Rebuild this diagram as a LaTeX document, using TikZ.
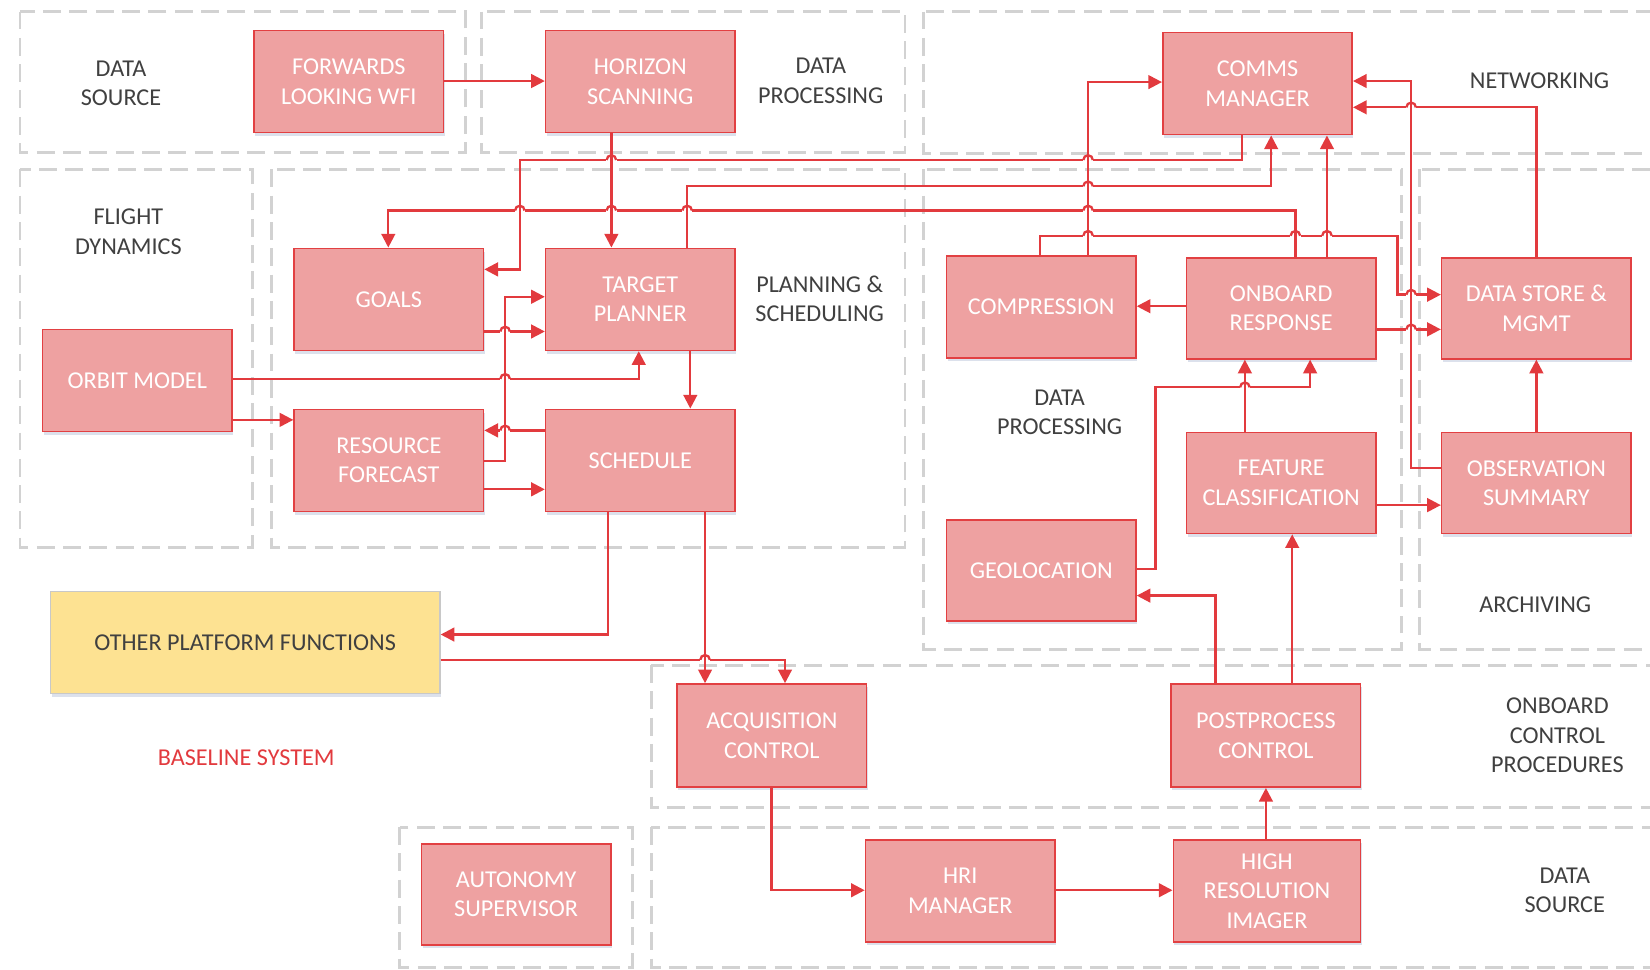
\documentclass[tikz,border=0pt]{standalone}
\usepackage{fontspec}
\setmainfont{Carlito}
\usetikzlibrary{arrows.meta,shadows}

\definecolor{boxfill}{RGB}{238,161,161}
\definecolor{boxline}{RGB}{226,64,66}
\definecolor{wirecol}{RGB}{226,58,62}
\definecolor{groupline}{RGB}{210,210,210}
\definecolor{labeltext}{RGB}{64,64,64}
\definecolor{platfill}{RGB}{253,226,146}
\definecolor{platline}{RGB}{200,200,200}
\definecolor{shadowcol}{RGB}{205,212,228}

% a small jump where a horizontal wire passes over a vertical one
\newcommand\wirehop[2]{%
  \fill[white] (#1-5,#2-1.7) rectangle (#1+5,#2+1.7);
  \draw[wire] (#1,#2-7) -- (#1,#2+7);
  \draw[wire] (#1-4.5,#2) arc[start angle=180,end angle=0,radius=4.5pt];
}

\begin{document}
\begin{tikzpicture}[x=1pt,y=-1pt,
  font=\fontsize{23}{28}\selectfont,
  blk/.style={draw=boxline, line width=1.5pt, fill=boxfill, text=white,
    minimum width=180pt, minimum height=97pt, align=center, inner sep=0pt,
    drop shadow={shadow xshift=1pt, shadow yshift=-3pt, opacity=0.7, fill=shadowcol}},
  platbox/.style={blk, draw=platline, fill=platfill, text=labeltext},
  grp/.style={draw=groupline, line width=2.8pt, dash pattern=on 17pt off 8pt},
  lbl/.style={text=labeltext, align=center},
  wire/.style={draw=wirecol, line width=2.2pt},
  arr/.style={wire, -{Triangle[length=13pt,width=13pt]}},
]
\useasboundingbox (0,0) rectangle (1568,921);

% functional groups
\begin{scope}
\clip (0,0) rectangle (1568,921);
\draw[grp] (19,11) rectangle (442,145);
\draw[grp] (458,11) rectangle (860,145);
\draw[grp] (878,11) rectangle (1590,146);
\draw[grp] (19,161) rectangle (240,520);
\draw[grp] (258,161) rectangle (860,520);
\draw[grp] (878,161) rectangle (1332,617);
\draw[grp] (1349,161) rectangle (1590,617);
\draw[grp] (619,632) rectangle (1590,767);
\draw[grp] (380,786) rectangle (601,919);
\draw[grp] (619,786) rectangle (1590,919);
\end{scope}

% group labels
\node[lbl] (lsrc) at (115,79) {DATA\\SOURCE};
\node[lbl] (lproc) at (780,77) {DATA\\PROCESSING};
\node[lbl] (lnet) at (1463,77) {NETWORKING};
\node[lbl] (lfd) at (122,220) {FLIGHT\\DYNAMICS};
\node[lbl] (lps) at (779,284) {PLANNING \&\\SCHEDULING};
\node[lbl] (lproc2) at (1007,392) {DATA\\PROCESSING};
\node[lbl] (larch) at (1459,575) {ARCHIVING};
\node[lbl] (lobc) at (1480,699) {ONBOARD\\CONTROL\\PROCEDURES};
\node[lbl] (lsrc2) at (1487,846) {DATA\\SOURCE};
\node[lbl, text=wirecol] (lbase) at (234,720) {BASELINE SYSTEM};

% functional blocks
\node[blk] (fwd) at (331.5,77.5) {FORWARDS\\LOOKING WFI};
\node[blk] (hor) at (608.5,77.5) {HORIZON\\SCANNING};
\node[blk] (comms) at (1195,79.5) {COMMS\\MANAGER};
\node[blk] (goals) at (369.5,284.5) {GOALS};
\node[blk] (target) at (608.5,284.5) {TARGET\\PLANNER};
\node[blk] (orbit) at (130.5,361.5) {ORBIT MODEL};
\node[blk] (resource) at (369.5,437.5) {RESOURCE\\FORECAST};
\node[blk] (schedule) at (608.5,437.5) {SCHEDULE};
\node[blk] (compr) at (989.5,291.5) {COMPRESSION};
\node[blk, minimum height=96pt] (onboard) at (1217.5,293) {ONBOARD\\RESPONSE};
\node[blk, minimum height=96pt] (store) at (1460,293) {DATA STORE \&\\MGMT};
\node[blk, minimum height=96pt] (feature) at (1217.5,459) {FEATURE\\CLASSIFICATION};
\node[blk, minimum height=96pt] (obs) at (1460,459) {OBSERVATION\\SUMMARY};
\node[blk, minimum height=96pt] (geo) at (989.5,542) {GEOLOCATION};
\node[platbox, minimum width=370pt] (other) at (233,610.5) {OTHER PLATFORM FUNCTIONS};
\node[blk, minimum height=98pt] (acq) at (733.5,699) {ACQUISITION\\CONTROL};
\node[blk, minimum height=98pt] (post) at (1203,699) {POSTPROCESS\\CONTROL};
\node[blk, minimum height=96pt] (auto) at (490.5,850) {AUTONOMY\\SUPERVISOR};
\node[blk] (hrim) at (912.5,846.5) {HRI\\MANAGER};
\node[blk, minimum width=178pt] (hres) at (1204,846.5) {HIGH\\RESOLUTION\\IMAGER};

% routing points
\coordinate (fh) at (0,77);
\coordinate (ht) at (581,0);
\coordinate (cg1) at (1180,152);
\coordinate (cg2) at (494,152);
\coordinate (cg3) at (494,256);
\coordinate (tc1) at (653,177);
\coordinate (tc2) at (1208,177);
\coordinate (og1) at (1231,200);
\coordinate (og2) at (369,200);
\coordinate (cs1) at (988,224);
\coordinate (cs2) at (1328,224);
\coordinate (cs3) at (1328,280);
\coordinate (cc1) at (1034,78);
\coordinate (oc) at (1261,0);
\coordinate (ocp) at (0,291);
\coordinate (ods) at (0,313);
\coordinate (dc1) at (1460,102);
\coordinate (sc1) at (1341,445);
\coordinate (sc2) at (1341,77);
\coordinate (sd) at (1460,0);
\coordinate (fs) at (0,480);
\coordinate (fo) at (1183,0);
\coordinate (go1) at (1098,541);
\coordinate (go2) at (1098,368);
\coordinate (go3) at (1245,368);
\coordinate (pg1) at (1155,566);
\coordinate (pf) at (1228,0);
\coordinate (hp) at (1203,0);
\coordinate (hh) at (0,846);
\coordinate (ah1) at (733,846);
\coordinate (so1) at (578,603);
\coordinate (sa) at (670,0);
\coordinate (oa1) at (746,627);
\coordinate (ts) at (656,0);
\coordinate (ot1) at (607,360);
\coordinate (orr) at (0,399);
\coordinate (gt) at (0,315);
\coordinate (rt1) at (480,438);
\coordinate (rt2) at (480,282);
\coordinate (sr) at (0,409);
\coordinate (rs) at (0,465);

% connectors
\draw[arr] (fwd.east |- fh) -- (hor.west |- fh);
\draw[arr] (hor.south -| ht) -- (target.north -| ht);
\draw[arr] (comms.south -| cg1) -- (cg1) -- (cg2) -- (cg3) -- (goals.east |- cg3);
\draw[arr] (target.north -| tc1) -- (tc1) -- (tc2) -- (comms.south -| tc2);
\draw[arr] (onboard.north -| og1) -- (og1) -- (og2) -- (goals.north -| og2);
\draw[arr] (compr.north -| cs1) -- (cs1) -- (cs2) -- (cs3) -- (store.west |- cs3);
\draw[arr] (compr.north -| cc1) -- (cc1) -- (comms.west |- cc1);
\draw[arr] (onboard.north -| oc) -- (comms.south -| oc);
\draw[arr] (onboard.west |- ocp) -- (compr.east |- ocp);
\draw[arr] (onboard.east |- ods) -- (store.west |- ods);
\draw[arr] (store.north -| dc1) -- (dc1) -- (comms.east |- dc1);
\draw[arr] (obs.west |- sc1) -- (sc1) -- (sc2) -- (comms.east |- sc2);
\draw[arr] (obs.north -| sd) -- (store.south -| sd);
\draw[arr] (feature.east |- fs) -- (obs.west |- fs);
\draw[arr] (feature.north -| fo) -- (onboard.south -| fo);
\draw[arr] (geo.east |- go1) -- (go1) -- (go2) -- (go3) -- (onboard.south -| go3);
\draw[arr] (post.north -| pg1) -- (pg1) -- (geo.east |- pg1);
\draw[arr] (post.north -| pf) -- (feature.south -| pf);
\draw[arr] (hres.north -| hp) -- (post.south -| hp);
\draw[arr] (hrim.east |- hh) -- (hres.west |- hh);
\draw[arr] (acq.south -| ah1) -- (ah1) -- (hrim.west |- ah1);
\draw[arr] (schedule.south -| so1) -- (so1) -- (other.east |- so1);
\draw[arr] (schedule.south -| sa) -- (acq.north -| sa);
\draw[arr] (other.east |- oa1) -- (oa1) -- (acq.north -| oa1);
\draw[arr] (target.south -| ts) -- (schedule.north -| ts);
\draw[arr] (orbit.east |- ot1) -- (ot1) -- (target.south -| ot1);
\draw[arr] (orbit.east |- orr) -- (resource.west |- orr);
\draw[arr] (goals.east |- gt) -- (target.west |- gt);
\draw[arr] (resource.east |- rt1) -- (rt1) -- (rt2) -- (target.west |- rt2);
\draw[arr] (schedule.west |- sr) -- (resource.east |- sr);
\draw[arr] (resource.east |- rs) -- (schedule.west |- rs);

% line jumps
\wirehop{581}{152}
\wirehop{1034}{152}
\wirehop{1034}{177}
\wirehop{494}{200}
\wirehop{581}{200}
\wirehop{653}{200}
\wirehop{1034}{200}
\wirehop{1034}{224}
\wirehop{1231}{224}
\wirehop{1261}{224}
\wirehop{1341}{280}
\wirehop{1341}{313}
\wirehop{1341}{102}
\wirehop{1183}{368}
\wirehop{670}{627}
\wirehop{480}{360}
\wirehop{480}{315}
\wirehop{480}{409}

\end{tikzpicture}
\end{document}
